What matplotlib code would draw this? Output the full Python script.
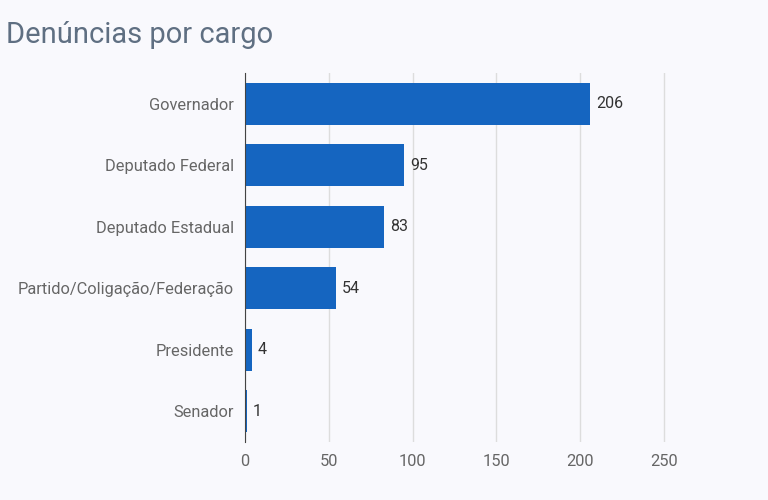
import matplotlib.pyplot as plt

cargos = ["Governador", "Deputado Federal", "Deputado Estadual",
          "Partido/Coligação/Federação", "Presidente", "Senador"]
denuncias = [206, 95, 83, 54, 4, 1]
xticks = [0, 50, 100, 150, 200, 250]

plt.rcParams['font.family'] = ['Roboto', 'DejaVu Sans']

bg = '#f9f9fd'
fig = plt.figure(figsize=(7.68, 5), dpi=100, facecolor=bg)
# axis runs a few px past 250 so the last gridline is not clipped
ax = fig.add_axes([245 / 768, 1 - 442 / 500, 425 / 768, 369 / 500], facecolor=bg)

y = list(range(len(cargos)))
ax.barh(y, denuncias, height=0.68, color='#1565c0', zorder=3)
for yi, v in zip(y, denuncias):
    ax.text(v + 3.5, yi, str(v), va='center', ha='left', fontsize=11.5, color='#333333')

ax.set_ylim(len(cargos) - 0.5, -0.5)
ax.set_xlim(0, 250 * 425 / 419)
ax.set_yticks(y)
ax.set_yticklabels(cargos)
ax.set_xticks(xticks)
ax.tick_params(axis='both', length=0, labelsize=11.8, labelcolor='#666666')
ax.tick_params(axis='y', pad=8)
ax.tick_params(axis='x', pad=9)
ax.grid(axis='x', color='#dddddd', linewidth=1, zorder=0)

for s in ['top', 'right', 'bottom']:
    ax.spines[s].set_visible(False)
ax.spines['left'].set_color('#444444')
ax.spines['left'].set_zorder(4)

fig.text(6 / 768, 1 - 35 / 500, "Denúncias por cargo", fontsize=21,
         color='#5f6f82', va='center', ha='left')

fig.savefig('out.png', dpi=100, facecolor=bg)
